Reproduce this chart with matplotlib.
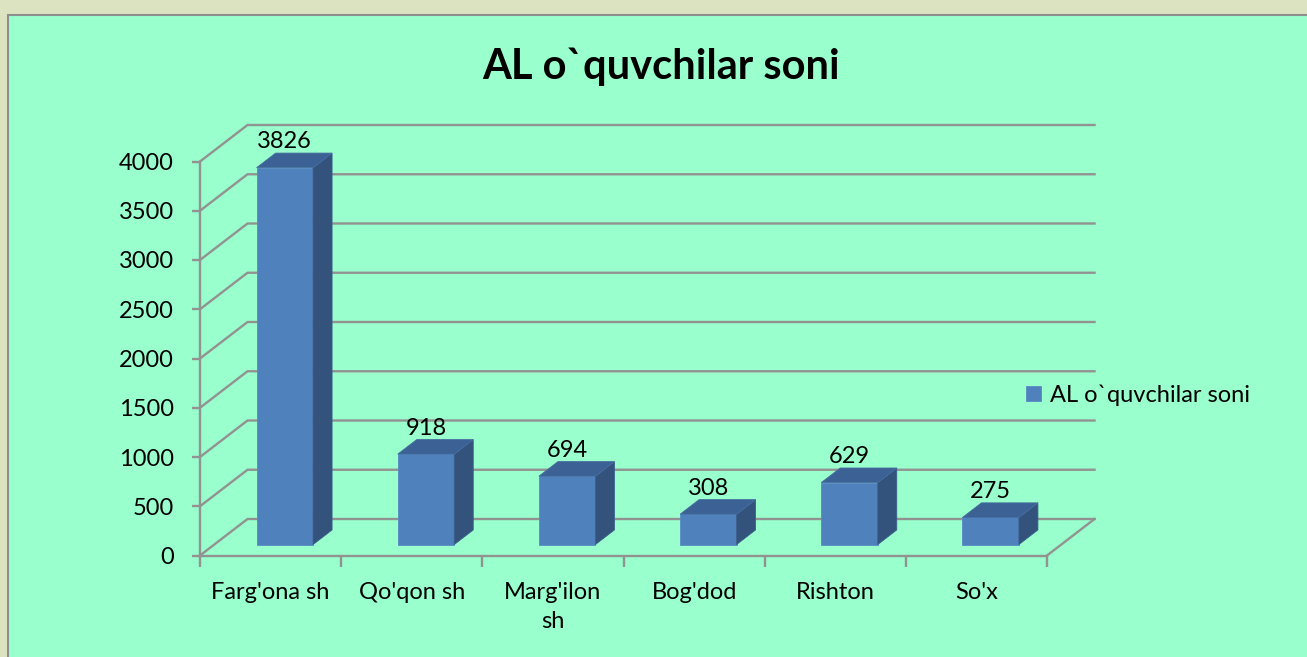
import matplotlib
matplotlib.use('Agg')
import matplotlib.pyplot as plt
from matplotlib.patches import Polygon, Rectangle
import numpy as np

plt.rcParams['font.family'] = ['Lato', 'DejaVu Sans']

categories = ["Farg'ona sh", "Qo'qon sh", "Marg'ilon\nsh", "Bog'dod", "Rishton", "So'x"]
values = [3826, 918, 694, 308, 629, 275]
yticks = [0, 500, 1000, 1500, 2000, 2500, 3000, 3500, 4000]
series_name = "AL o`quvchilar soni"
title = "AL o`quvchilar soni"

W, H = 1307, 657
fig = plt.figure(figsize=(W / 100, H / 100), dpi=100)
fig.patch.set_facecolor('#dce3c0')
bg = Rectangle((7.5 / W, -0.1), 1.2, 1 - 14.5 / H + 0.1, transform=fig.transFigure,
               facecolor='#99ffcc', edgecolor='#8e8e8e', lw=1.5, zorder=-5)
fig.add_artist(bg)

# pixel geometry of the front plane / depth
cat_px = 141.17
val_px = 394 / 4000
dep_dx = 47.5 / cat_px          # depth shift in category units
dep_dy = 36.5 / val_px          # depth shift in value units
x_left, y_zero = 200, 555.5
xmax = 6 + dep_dx
ymax = 4000 + dep_dy
ax = fig.add_axes([x_left / W, 1 - y_zero / H, xmax * cat_px / W, ymax * val_px / H])
ax.set_zorder(2)
ax.set_xlim(0, xmax)
ax.set_ylim(0, ymax)
ax.patch.set_visible(False)

def proj(x, y, z):
    return (x + z * dep_dx, y + z * dep_dy)

grid_c = '#929292'
for v in yticks:
    pts = [proj(0, v, 0), proj(0, v, 1), proj(6, v, 1)]
    ax.plot([p[0] for p in pts], [p[1] for p in pts], color=grid_c, lw=1.7, zorder=1, clip_on=False)
p0, p1 = proj(6, 0, 0), proj(6, 0, 1)
ax.plot([p0[0], p1[0]], [p0[1], p1[1]], color=grid_c, lw=1.7, zorder=1, clip_on=False)

# bars
z0, z1 = 0.3, 0.7
bw = 0.4
xc = np.arange(len(values)) + 0.5
front = ax.bar(xc + z0 * dep_dx, values, width=bw, bottom=z0 * dep_dy,
               color='#4f81bd', edgecolor='#5a8ac4', linewidth=0.6, zorder=3, label=series_name)
for x, h in zip(xc, values):
    xa, xb = x - bw / 2, x + bw / 2
    side = [proj(xb, 0, z0), proj(xb, 0, z1), proj(xb, h, z1), proj(xb, h, z0)]
    top = [proj(xa, h, z0), proj(xb, h, z0), proj(xb, h, z1), proj(xa, h, z1)]
    ax.add_patch(Polygon(side, closed=True, facecolor='#33527c', edgecolor='#3d5f8c', lw=0.6, zorder=3))
    ax.add_patch(Polygon(top, closed=True, facecolor='#3c6295', edgecolor='#466da0', lw=0.6, zorder=3))
    lx, _ = proj(x, h, z0)
    _, ly = proj(x, h, z1)
    ax.annotate(str(h), xy=(lx, ly), xytext=(0, 3.5), textcoords='offset points',
                ha='center', va='baseline', fontsize=17, color='black', zorder=5)

# axes
for s in ['top', 'right']:
    ax.spines[s].set_visible(False)
for s in ['left', 'bottom']:
    ax.spines[s].set_color(grid_c)
    ax.spines[s].set_linewidth(1.7)
ax.spines['left'].set_bounds(0, 4000)
ax.spines['bottom'].set_bounds(0, 6)
ax.set_yticks(yticks)
ax.set_yticklabels([str(t) for t in yticks], fontsize=17)
ax.tick_params(axis='y', length=6, width=1.7, color=grid_c, pad=13)
ax.set_xticks(np.arange(7))
ax.set_xticklabels([])
ax.tick_params(axis='x', which='major', length=8, width=1.7, color=grid_c)
ax.set_xticks(xc, minor=True)
ax.set_xticklabels(categories, minor=True, fontsize=17, linespacing=1.45)
ax.tick_params(axis='x', which='minor', length=0, pad=19)

fig.text(661 / W, 1 - 79 / H, title, ha='center', va='baseline', fontsize=30, fontweight='bold')

fig.legend(handles=[front], labels=[series_name], loc='center left',
           bbox_to_anchor=(1026 / W, 1 - 395 / H), frameon=False, fontsize=17,
           handlelength=0.65, handleheight=0.65, handletextpad=0.35, borderpad=0, borderaxespad=0)

fig.savefig('out.png', dpi=100, facecolor=fig.get_facecolor())
